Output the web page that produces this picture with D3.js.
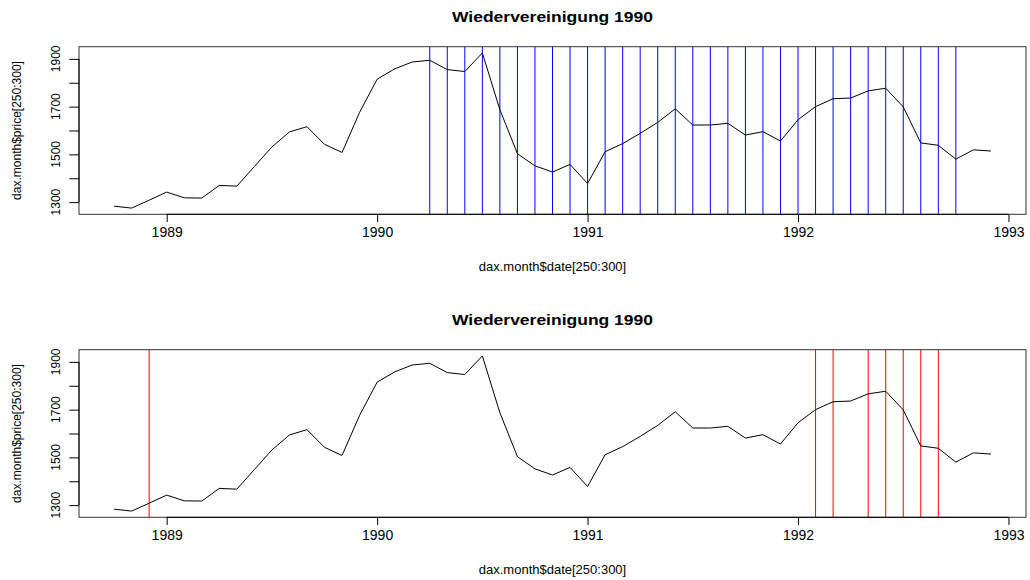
<!DOCTYPE html>
<html>
<head>
<meta charset="utf-8">
<script src="https://cdn.jsdelivr.net/npm/d3@7"></script>
<style>
  body { margin: 0; background: #fff; }
  svg text { font-family: "Liberation Sans", Arial, Helvetica, sans-serif; fill: #000; }
</style>
</head>
<body>
<div id="chart"></div>
<script>
// monthly DAX closes, rows 250:300 of dax.month
var dates = ["1988-10","1988-11","1988-12","1989-01","1989-02","1989-03","1989-04","1989-05",
  "1989-06","1989-07","1989-08","1989-09","1989-10","1989-11","1989-12","1990-01","1990-02",
  "1990-03","1990-04","1990-05","1990-06","1990-07","1990-08","1990-09","1990-10","1990-11",
  "1990-12","1991-01","1991-02","1991-03","1991-04","1991-05","1991-06","1991-07","1991-08",
  "1991-09","1991-10","1991-11","1991-12","1992-01","1992-02","1992-03","1992-04","1992-05",
  "1992-06","1992-07","1992-08","1992-09","1992-10","1992-11","1992-12"];
var price = [1283,1275,1308,1342,1318,1317,1370,1367,1449,1531,1594,1616,1542,1508,1676,
  1815,1858,1887,1894,1855,1847,1925,1687,1503,1452,1426,1458,1378,1511,1545,1588,1634,
  1691,1623,1623,1630,1581,1595,1556,1645,1700,1733,1736,1766,1777,1699,1548,1538,1480,
  1519,1514];

// months marked with vertical lines
var blueDates = ["1990-04","1990-05","1990-06","1990-07","1990-08","1990-09","1990-10",
  "1990-11","1990-12","1991-01","1991-02","1991-03","1991-04","1991-05","1991-06","1991-07",
  "1991-08","1991-09","1991-10","1991-11","1991-12","1992-01","1992-02","1992-03","1992-04",
  "1992-05","1992-06","1992-07","1992-08","1992-09","1992-10"];
var redDates = ["1988-12","1992-02","1992-03","1992-05","1992-06","1992-07","1992-08","1992-09"];

var xTicks = [1989, 1990, 1991, 1992, 1993];
var yTicks = [1300, 1400, 1500, 1600, 1700, 1800, 1900];
var yLabels = [1300, 1500, 1700, 1900];

var title = "Wiedervereinigung 1990";
var xTitle = "dax.month$date[250:300]";
var yTitle = "dax.month$price[250:300]";

function toYear(s){
    var p = s.split("-");
    return +p[0] + (+p[1] - 1) / 12;
}

var data = dates.map(function(d, i){ return {t: toYear(d), v: price[i]}; });

var width = 1030, height = 580;
var svg = d3.select("#chart").append("svg")
            .attr("width", width)
            .attr("height", height);

// R-style 4% padding on both axes
var tExt = d3.extent(data, d => d.t), vExt = d3.extent(data, d => d.v);
var tPad = (tExt[1] - tExt[0]) * 0.04, vPad = (vExt[1] - vExt[0]) * 0.04;

var left = 79, right = 1026;
var x = d3.scaleLinear().domain([tExt[0] - tPad, tExt[1] + tPad]).range([left, right]);

function drawPanel(top, marks, color){
    var bottom = top + 167.6;
    var y = d3.scaleLinear().domain([vExt[0] - vPad, vExt[1] + vPad]).range([bottom, top]);
    var g = svg.append("g");

    // title
    g.append("text")
        .attr("x", (left + right) / 2)
        .attr("y", top - 25.2)
        .attr("text-anchor", "middle")
        .style("font-size", "14px")
        .style("font-weight", "bold")
        .attr("textLength", 201)
        .attr("lengthAdjust", "spacingAndGlyphs")
        .text(title);

    // vertical marker lines
    g.selectAll("line.mark").data(marks).enter().append("line")
        .attr("class", "mark")
        .attr("x1", d => x(toYear(d))).attr("x2", d => x(toYear(d)))
        .attr("y1", top).attr("y2", bottom)
        .attr("stroke", color)
        .attr("stroke-width", 1);

    // price line
    var line = d3.line().x(d => x(d.t)).y(d => y(d.v));
    g.append("path")
        .datum(data)
        .attr("d", line)
        .attr("fill", "none")
        .attr("stroke", "#000")
        .attr("stroke-width", 1);

    // box
    g.append("rect")
        .attr("x", left).attr("y", top)
        .attr("width", right - left).attr("height", bottom - top)
        .attr("fill", "none")
        .attr("stroke", "#333")
        .attr("stroke-width", 1);

    // x axis
    var xa = g.append("g")
        .attr("transform", "translate(0," + bottom + ")")
        .call(d3.axisBottom(x).tickValues(xTicks).tickFormat(d3.format("d")).tickSize(7.7).tickPadding(5));
    xa.select(".domain").attr("d", "M" + x(xTicks[0]) + ",0H" + x(xTicks[xTicks.length - 1]));
    xa.selectAll("line").attr("stroke", "#000");
    xa.selectAll("text").style("font-size", "14px").style("font-family", "Liberation Sans, Arial, sans-serif");

    // y axis
    var ya = g.append("g")
        .attr("transform", "translate(" + left + ",0)")
        .call(d3.axisLeft(y).tickValues(yTicks).tickFormat("").tickSize(9.7));
    ya.select(".domain").attr("d", "M0," + y(yTicks[0]) + "V" + y(yTicks[yTicks.length - 1]));
    ya.selectAll("line").attr("stroke", "#000");

    g.selectAll("text.ylab").data(yLabels).enter().append("text")
        .attr("class", "ylab")
        .attr("transform", d => "translate(59.5," + y(d) + ") rotate(-90)")
        .attr("text-anchor", "middle")
        .style("font-size", "12px")
        .text(d => d);

    // axis titles
    g.append("text")
        .attr("x", (left + right) / 2)
        .attr("y", bottom + 56.3)
        .attr("text-anchor", "middle")
        .style("font-size", "13px")
        .text(xTitle);

    g.append("text")
        .attr("transform", "translate(21," + (top + bottom) / 2 + ") rotate(-90)")
        .attr("text-anchor", "middle")
        .style("font-size", "12px")
        .text(yTitle);
}

drawPanel(46.7, blueDates, "#0000ff");
drawPanel(349.7, redDates, "#ff0000");
</script>
</body>
</html>
